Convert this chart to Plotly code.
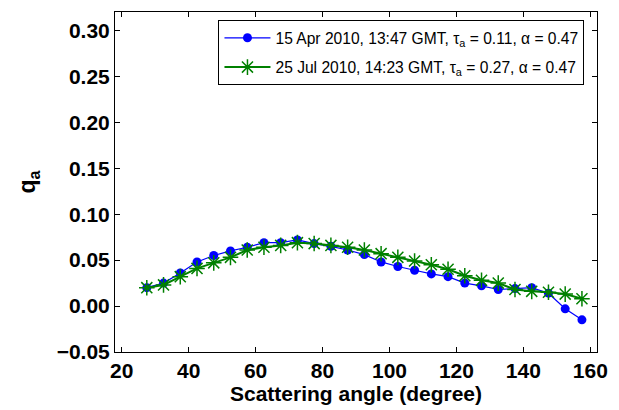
import plotly.graph_objects as go

# Scattering angle bins (degrees)
angle = [27.5, 32.5, 37.5, 42.5, 47.5, 52.5, 57.5, 62.5, 67.5, 72.5, 77.5,
         82.5, 87.5, 92.5, 97.5, 102.5, 107.5, 112.5, 117.5, 122.5, 127.5,
         132.5, 137.5, 142.5, 147.5, 152.5, 157.5]

# q_a, 15 Apr 2010
q_apr = [0.020, 0.025, 0.036, 0.048, 0.055, 0.060, 0.064, 0.069, 0.069, 0.072,
         0.068, 0.065, 0.061, 0.056, 0.048, 0.043, 0.039, 0.035, 0.032, 0.025,
         0.022, 0.018, 0.019, 0.020, 0.014, -0.003, -0.015]

# q_a, 25 Jul 2010
q_jul = [0.020, 0.023, 0.032, 0.041, 0.047, 0.053, 0.061, 0.064, 0.066, 0.069,
         0.068, 0.066, 0.064, 0.061, 0.057, 0.053, 0.049, 0.045, 0.040, 0.033,
         0.028, 0.025, 0.018, 0.016, 0.015, 0.013, 0.008]

name_apr = "15 Apr 2010, 13:47 GMT, τ<sub>a</sub> = 0.11, α = 0.47"
name_jul = "25 Jul 2010, 14:23 GMT, τ<sub>a</sub> = 0.27, α = 0.47"

x_ticks = [20, 40, 60, 80, 100, 120, 140, 160]
y_ticks = [-0.05, 0.00, 0.05, 0.10, 0.15, 0.20, 0.25, 0.30]

FONT = "Liberation Sans, Arial, sans-serif"

fig = go.Figure()
fig.add_trace(go.Scatter(
    x=angle, y=q_apr, mode="lines+markers", name=name_apr,
    legendgroup="a",
    line=dict(color="rgb(0,0,255)", width=1.2),
    marker=dict(symbol="circle", size=9, color="rgb(0,0,255)"),
))
fig.add_trace(go.Scatter(
    x=angle, y=q_jul, mode="lines+markers", name=name_jul,
    legendgroup="b",
    line=dict(color="rgb(0,128,0)", width=2),
    marker=dict(symbol="asterisk-open", size=13,
                line=dict(color="rgb(0,128,0)", width=1.5)),
))

axis_common = dict(
    showline=True, linecolor="black", linewidth=1, mirror="ticks",
    ticks="inside", ticklen=5, tickcolor="black", tickwidth=1,
    showgrid=False, zeroline=False,
    tickfont=dict(family=FONT, size=21, color="black", weight="bold"),
)

fig.update_xaxes(
    range=[18, 162], tickvals=x_ticks,
    title=dict(text="Scattering angle (degree)", standoff=2,
               font=dict(family=FONT, size=21, color="black", weight="bold")),
    **axis_common,
)
fig.update_yaxes(
    range=[-0.05, 0.32], tickvals=y_ticks, tickformat=".2f",
    title=dict(text="q<sub>a</sub>", standoff=14,
               font=dict(family=FONT, size=23, color="black", weight="bold")),
    **axis_common,
)

fig.update_layout(
    width=619, height=410,
    margin=dict(l=115, r=16, t=11, b=58),
    paper_bgcolor="white", plot_bgcolor="white",
    showlegend=True,
    legend=dict(
        x=0.974, y=0.976, xanchor="right", yanchor="top",
        bgcolor="white", bordercolor="black", borderwidth=1,
        font=dict(family=FONT, size=15.6, color="black"),
        itemwidth=46, tracegroupgap=6,
    ),
)

fig.write_html("out.html")
